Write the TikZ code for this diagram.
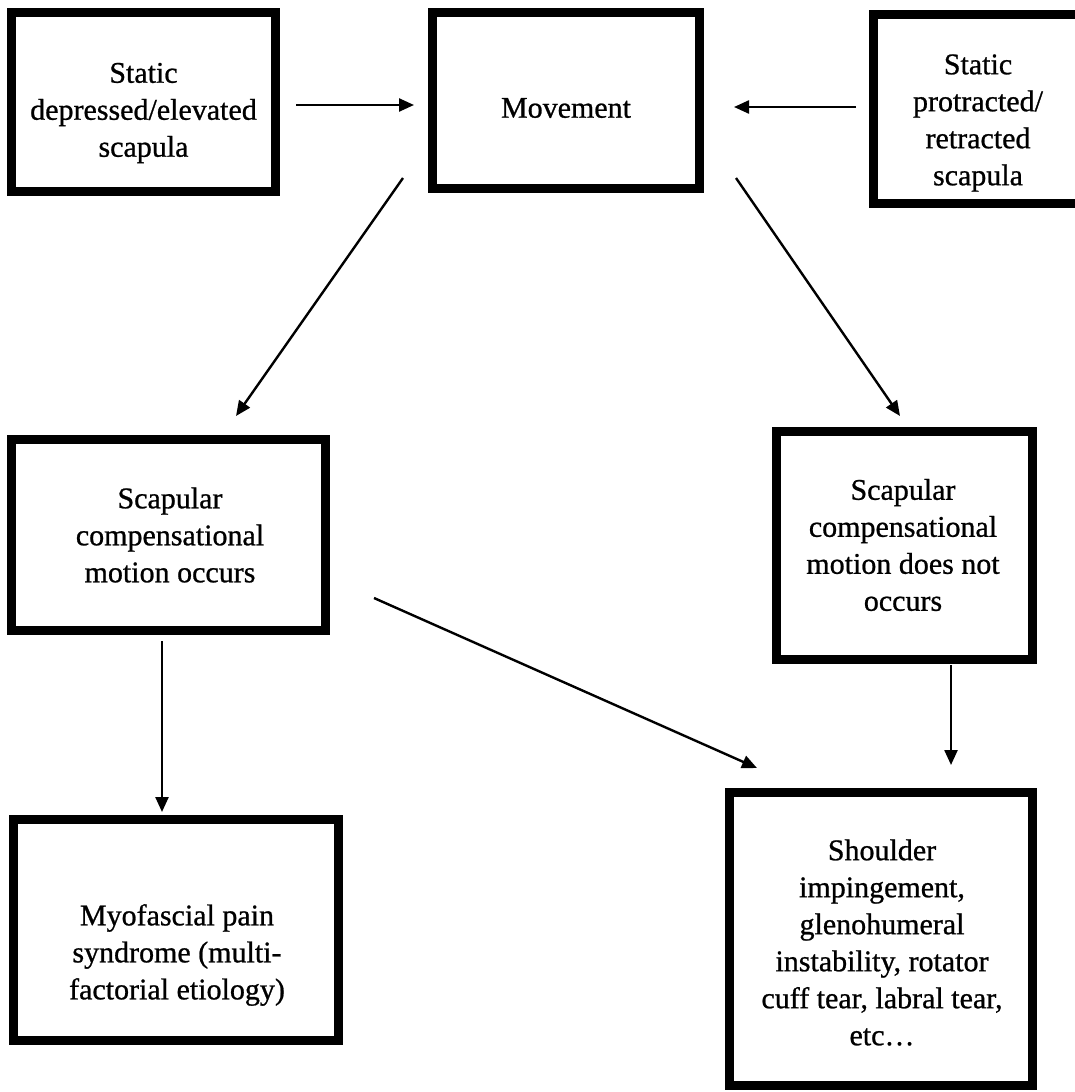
\documentclass[tikz,border=0pt]{standalone}
\usepackage{fontspec}
\setmainfont{Liberation Serif}[FakeBold=0.8]
\usetikzlibrary{arrows.meta}
\begin{document}
\begin{tikzpicture}[x=1pt,y=-1pt,
  box/.style={draw=black, line width=9pt, fill=white, inner sep=0pt, outer sep=0pt},
  lbl/.style={align=center, font=\fontsize{30}{37}\selectfont, inner sep=0pt},
  arr/.style={line width=2.4pt, -{Triangle[length=15pt,width=13pt]}}]
\useasboundingbox (0,0) rectangle (1075,1092);
\clip (0,0) rectangle (1075,1092);
\fill[white] (0,0) rectangle (1075,1092);
% boxes
\node[box, minimum width=264pt, minimum height=179pt] (b1) at (143.5,102) {};
\node[box, minimum width=267pt, minimum height=176pt] (b2) at (566,100.5) {};
\node[box, minimum width=209pt, minimum height=189pt] (b3) at (978,109) {};
\node[box, minimum width=314pt, minimum height=191pt] (b4) at (168.5,535) {};
\node[box, minimum width=256pt, minimum height=228pt] (b5) at (904.5,545.5) {};
\node[box, minimum width=325pt, minimum height=221pt] (b6) at (176,930) {};
\node[box, minimum width=303pt, minimum height=293pt] (b7) at (881,939) {};
% texts
\node[lbl] (t1) at (143.5,113) {Static\\depressed/elevated\\scapula};
\node[lbl] (t2) at (566,108) {Movement};
\node[lbl] (t3) at (978,123) {Static\\protracted/\\retracted\\scapula};
\node[lbl] (t4) at (170,535) {Scapular\\compensational\\motion occurs};
\node[lbl] (t5) at (903,545) {Scapular\\compensational\\motion does not\\occurs};
\node[lbl] (t6) at (177,955) {Myofascial pain\\syndrome (multi-\\factorial etiology)};
\node[lbl] (t7) at (882,942.5) {Shoulder\\impingement,\\glenohumeral\\instability, rotator\\cuff tear, labral tear,\\etc…};
% connector end points
\coordinate (a1s) at (296,105);  \coordinate (a1e) at (414,105);
\coordinate (a2s) at (856,107);  \coordinate (a2e) at (734,107);
\coordinate (a3s) at (403,178);  \coordinate (a3e) at (236,416);
\coordinate (a4s) at (736,178);  \coordinate (a4e) at (900,416);
\coordinate (a5s) at (374,598);  \coordinate (a5e) at (757,768);
\coordinate (a6s) at (162,641);  \coordinate (a6e) at (162,812);
\coordinate (a7s) at (951,665);  \coordinate (a7e) at (951,765);
% connectors
\draw[arr] (a1s) -- (a1e);
\draw[arr] (a2s) -- (a2e);
\draw[arr] (a3s) -- (a3e);
\draw[arr] (a4s) -- (a4e);
\draw[arr] (a5s) -- (a5e);
\draw[arr] (a6s) -- (a6e);
\draw[arr] (a7s) -- (a7e);
\end{tikzpicture}
\end{document}
